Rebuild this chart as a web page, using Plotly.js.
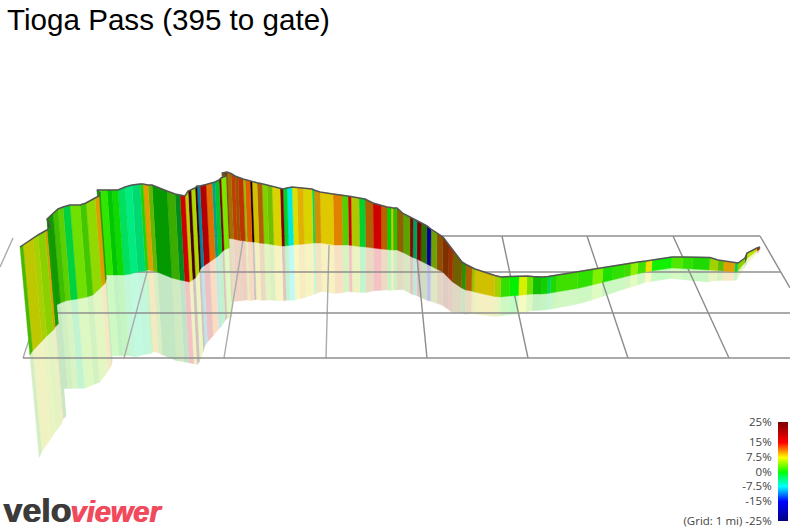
<!DOCTYPE html>
<html><head><meta charset="utf-8">
<script src="https://cdn.plot.ly/plotly-3.0.1.min.js"></script>
<style>html,body{margin:0;padding:0;background:#fff}#c{width:790px;height:529px}</style>
</head><body><div id="c"></div>
<script>
// Route stations (one per colour stripe)
const stationX = [
 20,23,33,38,45,47,50,49,47,53,
 58,63,70,80,86,95,99,100,97,107,
 112,118,125,132,140,143,148,152,167,175,
 180,185,188,191,195,197,200,206,212,215,
 219,221,226,222,227,231,235,238,243,245,
 250,252,257,262,267,272,280,283,287,292,
 297,303,312,314,320,333,342,348,351,359,
 365,373,381,387,391,393,397,403,410,413,
 417,421,427,431,437,443,449,453,462,466,
 472,475,495,501,510,519,527,533,542,548,
 551,557,578,593,603,613,625,631,638,646,
 652,672,683,693,710,718,724,735,738,745,
 747,757,759,760];
const ridgeY = [
 247,245,238,235,231,230,227,222,219,213,
 209,207,205,205,203,198,196,193,190,190,
 190,190,187,185,184,184,185,185,191,194,
 195,196,191,190,188,186,186,184.5,183,182,
 180,178,176,173,172,173.5,176,177.3,179,179.5,
 181,181.5,182.7,183.8,185,186.5,188.5,189,188,187,
 187.5,188,189,190,192,194,195,196,196.5,198,
 199,203,205.5,207,207.5,208,208,213.5,217,218.5,
 220.5,222.5,226,229,233,237,245,250,262,264.5,
 267.5,269,275.5,277,276.5,276,276,276.5,277,276.5,
 276,275,272,269,267.5,266,264,263,262,261,
 260,257,257,257,257.5,260,261,263,263,258,
 253,248,247.5,247];
const groundY = [
 355,351,341,336,330,327,324,314,306,303,
 301,300,299,297,295,287,283,279,275,275,
 275,275,274,272,271,270,271,272,278,280,
 281,282,280,278,272,268,266,262,258,256,
 252,250,248,238,238.5,239,240,240.5,241,241.5,
 242,242,243,243.5,244,245,246,246,245.5,245,
 244.5,244,243,243,243,245,245,245,245.5,246.5,
 247,248,249,249.5,250,250,250,252.5,256,257.5,
 259,261,264,266,269,272,278,282,288,290,
 291,292,296.5,297,296,295.5,294.5,294,294,293.5,
 293,292,288.5,285,282.5,280,277,275.5,274,272,
 271,268,268.5,269,270,270.5,271,272,271.5,263,
 259,251,250,248.5];
// Grade (%) of each stripe, and how brightly that stripe is lit
const gradePct = [
 3,7.2,6,5,9.5,1,.5,.5,1,2.5,
 3.3,-2.3,3.75,2.5,5,9.7,2,1,1.6,0,
 .5,-3.2,-4.1,-3.9,1.5,9.7,4,.2,2.5,-1.5,
 15,7,20,6,20,-9,20,11.25,-6,-1.5,
 18,4,10,12,9.75,12.5,11.25,13,5.6,11.8,
 20,8.1,10.9,4.6,4.4,7.7,15,-1.7,-7.3,7.5,
 9.1,7.7,-3,9.8,8.3,10.7,2.9,15,6.6,-1.7,
 10.9,15,11.25,0,8.6,1.9,10,4.5,14.5,-4.5,
 15,3.2,-15,5.25,10.9,12.2,12.75,8.6,2.5,10.9,
 6.25,8.1,5.8,1.6,0,6.75,3.75,.6,.55,-3.5,
 1.1,2.1,1.6,4,1,1.6,2.2,4.5,2.1,8,
 .5,2.6,1.6,1.1,5.8,3.75,9.7,-2.3,5.2,2,
 6.4,15,1];
const lit = [
 .72,.78,.82,.82,.85,.62,.55,.5,.6,.75,
 .82,.82,.88,.78,.85,.88,.6,.6,.9,.78,
 .85,.88,.92,.85,.82,.88,.72,.6,.68,.55,
 .82,.8,.35,.85,.3,.65,.95,.88,.65,.78,
 .6,.9,.5,.5,.63,.75,.63,.75,.75,.88,
 .12,.82,.69,.82,.75,.85,.5,.82,.91,.88,
 .88,.85,.85,.82,.88,.88,.82,.82,.78,.82,
 .69,.82,.75,.82,.88,.75,.56,.63,.5,.63,
 .5,.44,.63,.63,.56,.5,.63,.44,.56,.69,
 .75,.82,.82,.88,.94,.94,.88,.75,.82,.82,
 .85,.88,.88,.94,.88,.88,.85,.94,.88,.94,
 .94,.91,.88,.85,.82,.75,.88,.82,.82,.4,
 .88,.85,.6];

// Grade colour ramp and its legend
const rampGrades = [-25,-15,-7.5,0,7.5,15,25];
const rampRGB = [[0,0,128],[0,0,255],[0,255,255],[0,255,0],[255,255,0],[255,0,0],[128,0,0]];
const legendTicks = [25,15,7.5,0,-7.5,-15,-25];
const legendLabels = ['25%','15%','7.5%','0%','-7.5%','-15%','(Grid: 1 mi) -25%'];

// Floor grid
const gridRows = [358,313,272,236];
const gridRowStart = [23,36,60,47];
const gridRowEnd = [790,790,781,760];
const gridLightX = [0,13,null,23,38,null,124,147,null,224,243,null,326,329];
const gridLightY = [267,238,null,358,313,null,358,272,null,358,240,null,358,245];
const gridDarkX = [427,417,null,528,502,null,628,587,null,729,673,null,760,790];
const gridDarkY = [358,257,null,358,236,null,358,236,null,358,236,null,236,288];

function gradeRGB(g){
  let i=0; while(i<rampGrades.length-2 && g>rampGrades[i+1]) i++;
  const t=Math.max(0,Math.min(1,(g-rampGrades[i])/(rampGrades[i+1]-rampGrades[i])));
  return rampRGB[i].map((c,k)=>c+(rampRGB[i+1][k]-c)*t);
}
const css=(c,f)=>`rgb(${c.map(v=>Math.round(v*f)).join(',')})`;
const tint=(c,f,a)=>`rgb(${c.map(v=>Math.round(v*f*a+255*(1-a))).join(',')})`;
const SKEW=0.00024, MIRROR=0.95, TINT=0.24;
const baseX=i=>stationX[i]+(400-stationX[i])*SKEW*(groundY[i]-ridgeY[i]);
const mirrorX=i=>baseX(i)+(400-stationX[i])*SKEW*MIRROR*(groundY[i]-ridgeY[i]);
const mirrorY=i=>groundY[i]+MIRROR*(groundY[i]-ridgeY[i]);

const traces=[];
const rowX=[],rowY=[];
gridRows.forEach((y,i)=>{rowX.push(gridRowStart[i],gridRowEnd[i],null);rowY.push(y,y,null);});
const gl=(x,y,c,w)=>({type:'scatter',mode:'lines',x,y,line:{color:c,width:w},hoverinfo:'skip',showlegend:false});

const N=gradePct.length;
// mirrored curtain on the floor, far end first
for(let i=N-1;i>=0;i--){
  const col=tint(gradeRGB(gradePct[i]),lit[i],TINT);
  traces.push({type:'scatter',mode:'lines',fill:'toself',hoverinfo:'skip',showlegend:false,
    x:[baseX(i),baseX(i+1),mirrorX(i+1),mirrorX(i),baseX(i)],
    y:[groundY[i],groundY[i+1],mirrorY(i+1),mirrorY(i),groundY[i]],
    fillcolor:col,line:{color:col,width:0.4}});
}
traces.push(gl(gridLightX,gridLightY,'#ababab',1.4));
traces.push(gl(gridDarkX,gridDarkY,'#8c8c8c',1.4));
traces.push(gl(rowX,rowY,'#8f8f8f',1.7));
// the ribbon, far end first so nearer parts cover it
for(let i=N-1;i>=0;i--){
  const col=css(gradeRGB(gradePct[i]),lit[i]);
  traces.push({type:'scatter',mode:'lines',fill:'toself',hoverinfo:'skip',showlegend:false,
    x:[stationX[i],stationX[i+1],baseX(i+1),baseX(i),stationX[i]],
    y:[ridgeY[i],ridgeY[i+1],groundY[i+1],groundY[i],ridgeY[i]],
    fillcolor:col,line:{color:col,width:0.4}});
}
traces.push(gl(stationX,ridgeY,'#555555',1.5));

// legend bar
const legendZ=[],legendY=[];
for(let g=-25;g<=25;g++){legendY.push(g);legendZ.push([g,g]);}
traces.push({type:'heatmap',x:[0,1],y:legendY,z:legendZ,zmin:-25,zmax:25,zsmooth:'best',showscale:false,
  hoverinfo:'skip',xaxis:'x2',yaxis:'y2',
  colorscale:rampGrades.map((g,i)=>[(g+25)/50,css(rampRGB[i],1)])});

const W=790,H=529;
Plotly.newPlot('c',traces,{
  width:W,height:H,margin:{l:0,r:0,t:0,b:0},paper_bgcolor:'#fff',plot_bgcolor:'rgba(0,0,0,0)',
  showlegend:false,dragmode:false,
  title:{text:'Tioga Pass (395 to gate)',x:7/W,xref:'paper',xanchor:'left',y:1-20/H,yref:'container',yanchor:'middle',
    font:{family:'Liberation Sans',size:29.6,color:'#000'}},
  xaxis:{range:[0,W],domain:[0,1],visible:false,fixedrange:true},
  yaxis:{range:[H,0],domain:[0,1],visible:false,fixedrange:true},
  xaxis2:{domain:[778/W,788/W],range:[0,1],visible:false,anchor:'y2',fixedrange:true},
  yaxis2:{domain:[1-521/H,1-422/H],range:[-25,25],anchor:'x2',side:'left',showgrid:false,zeroline:false,showline:false,
    tickmode:'array',tickvals:legendTicks,ticktext:legendLabels,ticks:'outside',ticklen:3,tickcolor:'rgba(0,0,0,0)',
    tickfont:{family:'Open Sans',size:11.5,color:'#444'},fixedrange:true},
  annotations:[
   {xref:'x',yref:'y',x:1,y:510,xanchor:'left',yanchor:'middle',showarrow:false,
    font:{family:'Liberation Sans',size:34,color:'#3d3a3a',weight:700,shadow:'1px 0 0 #3d3a3a'},text:'velo'},
   {xref:'x',yref:'y',x:68,y:511.5,xanchor:'left',yanchor:'middle',showarrow:false,
    font:{family:'Liberation Sans',size:29,color:'#f04a5c',weight:700,style:'italic',shadow:'1px 0 0 #f04a5c'},text:'viewer'}
  ]
},{staticPlot:true,displayModeBar:false});
</script></body></html>
